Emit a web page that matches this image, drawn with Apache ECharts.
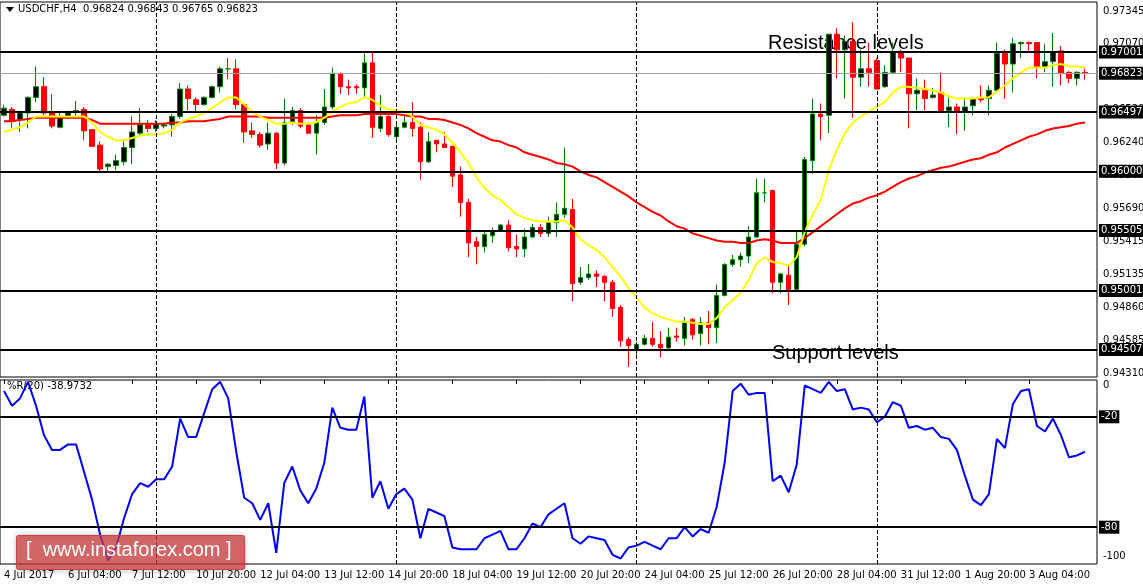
<!DOCTYPE html>
<html>
<head>
<meta charset="utf-8">
<script src="https://cdn.jsdelivr.net/npm/echarts@6/dist/echarts.min.js"></script>
<style>
html,body{margin:0;padding:0;background:#fff;}
#chart{width:1143px;height:585px;}
</style>
</head>
<body>
<div id="chart"></div>
<script>
// USDCHF H4, prices in 1e-4 units: [open, close, low, high]
var candles = [
[9647,9653,9646,9656],[9652,9642,9636,9654],[9643,9649,9633,9651],[9649,9662,9636,9663],[9662,9671,9658,9688],
[9671,9649,9647,9679],[9649,9638,9636,9665],[9637,9646,9636,9650],[9646,9649,9644,9651],[9650,9651,9646,9659],
[9652,9634,9626,9654],[9635,9621,9621,9635],[9622,9602,9600,9625],[9604,9606,9600,9607],[9605,9609,9601,9614],
[9608,9620,9605,9627],[9620,9633,9606,9646],[9632,9639,9629,9653],[9639,9636,9633,9643],[9636,9640,9633,9643],
[9638,9639,9636,9641],[9639,9646,9629,9648],[9646,9669,9644,9674],[9669,9661,9651,9672],[9660,9656,9649,9662],
[9656,9662,9655,9663],[9662,9671,9661,9672],[9671,9686,9666,9688],[9686,9686,9677,9695],[9686,9656,9652,9694],
[9656,9633,9624,9657],[9634,9631,9628,9641],[9631,9622,9620,9633],[9623,9632,9618,9641],[9632,9607,9602,9633],
[9607,9641,9605,9661],[9641,9651,9639,9654],[9651,9638,9636,9653],[9639,9632,9632,9641],[9632,9641,9614,9647],
[9641,9654,9639,9669],[9654,9682,9652,9687],[9682,9671,9665,9683],[9671,9670,9664,9677],[9671,9670,9665,9673],
[9670,9691,9662,9699],[9691,9637,9628,9700],[9636,9646,9633,9664],[9646,9631,9629,9649],[9629,9637,9626,9641],
[9637,9641,9636,9647],[9641,9636,9629,9658],[9637,9608,9593,9641],[9608,9625,9607,9633],[9626,9623,9616,9626],
[9623,9620,9620,9633],[9621,9596,9587,9621],[9597,9574,9562,9604],[9574,9540,9528,9577],[9541,9537,9522,9545],
[9537,9547,9532,9549],[9546,9550,9540,9553],[9550,9555,9549,9556],[9555,9536,9533,9559],[9537,9535,9528,9547],
[9535,9545,9528,9552],[9545,9553,9544,9556],[9553,9548,9545,9556],[9548,9557,9545,9562],[9557,9564,9545,9574],
[9564,9569,9561,9620],[9568,9506,9491,9577],[9507,9511,9505,9520],[9511,9514,9509,9522],[9514,9512,9503,9517],
[9512,9507,9491,9513],[9507,9485,9478,9509],[9486,9458,9453,9488],[9459,9454,9436,9461],[9450,9455,9444,9457],
[9455,9460,9454,9463],[9460,9455,9453,9474],[9455,9452,9444,9466],[9452,9461,9451,9469],[9462,9461,9457,9469],
[9460,9474,9454,9478],[9476,9463,9459,9477],[9464,9473,9454,9478],[9473,9469,9455,9483],[9469,9496,9456,9505],
[9496,9522,9495,9523],[9522,9526,9520,9530],[9526,9529,9520,9532],[9529,9545,9523,9554],[9545,9582,9544,9594],
[9582,9582,9574,9594],[9584,9507,9498,9584],[9507,9514,9498,9515],[9513,9501,9488,9522],[9501,9539,9499,9549],
[9539,9610,9537,9612],[9609,9648,9598,9661],[9648,9646,9626,9657],[9647,9715,9632,9715],[9715,9702,9678,9720],
[9702,9709,9661,9714],[9709,9679,9645,9725],[9679,9686,9671,9702],[9686,9683,9671,9708],[9693,9669,9669,9695],
[9671,9683,9670,9689],[9683,9700,9682,9708],[9700,9695,9683,9702],[9695,9665,9636,9695],[9665,9668,9651,9678],
[9668,9661,9651,9677],[9662,9664,9661,9670],[9666,9651,9651,9683],[9651,9654,9637,9662],[9654,9650,9631,9657],
[9650,9654,9634,9662],[9655,9661,9647,9662],[9661,9660,9658,9672],[9661,9668,9647,9672],[9668,9699,9666,9708],
[9699,9690,9661,9702],[9690,9707,9666,9712],[9707,9708,9695,9709],[9708,9707,9701,9709],[9708,9687,9678,9708],
[9687,9692,9683,9707],[9692,9700,9671,9716],[9701,9682,9672,9705],[9683,9678,9674,9684],[9678,9683,9672,9684],
[9683,9682,9677,9686]
];
var maFast = [
9633,9635,9637,9641,9646,9646,9646,9646,9646,9646,9646,9641,9633,9629,9626,9626,9628,9630,9631,9631,
9632,9635,9641,9644,9646,9649,9653,9658,9662,9662,9656,9650,9646,9643,9640,9640,9641,9640,9640,9641,
9645,9650,9654,9657,9658,9662,9660,9655,9652,9651,9650,9646,9639,9637,9635,9631,9624,9616,9607,9595,
9586,9580,9576,9570,9564,9561,9559,9558,9558,9558,9559,9553,9543,9538,9534,9528,9520,9512,9502,9494,
9486,9481,9478,9476,9474,9474,9473,9472,9472,9477,9486,9492,9498,9509,9523,9528,9524,9523,9521,9528,
9549,9564,9576,9601,9618,9632,9641,9646,9650,9654,9658,9666,9671,9671,9670,9669,9668,9666,9663,9661,
9661,9661,9662,9662,9667,9672,9678,9683,9687,9687,9687,9689,9690,9688,9688,9687
];
var maSlow = [
9642,9642,9643,9644,9645,9645,9645,9645,9645,9645,9645,9643,9640,9640,9640,9640,9640,9640,9640,9640,
9640,9641,9641,9642,9642,9642,9643,9644,9646,9646,9646,9646,9646,9645,9645,9645,9645,9645,9645,9645,
9645,9646,9647,9647,9647,9648,9648,9648,9648,9648,9647,9646,9646,9644,9644,9643,9641,9639,9636,9632,
9629,9626,9625,9622,9620,9616,9614,9612,9610,9607,9606,9604,9600,9597,9595,9591,9587,9583,9579,9574,
9570,9566,9563,9558,9554,9552,9548,9546,9544,9542,9541,9541,9540,9540,9542,9543,9542,9540,9540,9540,
9544,9549,9554,9559,9564,9569,9573,9575,9578,9580,9583,9587,9591,9594,9596,9599,9601,9603,9604,9606,
9608,9610,9611,9614,9616,9620,9623,9626,9629,9631,9634,9636,9637,9638,9640,9641
];
var williamsR = [
-6,-14,-10,-1,-14,-30,-38,-38,-35,-35,-50,-65,-84,-98,-91,-75,-62,-56,-58,-54,
-54,-47,-21,-31,-31,-18,-5,-1,-10,-39,-64,-67,-76,-67,-94,-56,-47,-60,-67,-59,
-45,-15,-26,-27,-27,-9,-64,-55,-70,-62,-59,-65,-86,-70,-72,-74,-91,-92,-92,-92,
-86,-84,-82,-92,-92,-86,-78,-80,-73,-70,-67,-86,-89,-85,-86,-87,-95,-97,-91,-90,
-88,-90,-92,-86,-86,-80,-85,-81,-83,-69,-45,-6,-2,-8,-7,-7,-55,-52,-61,-46,
-3,-5,-7,-1,-6,-5,-16,-15,-16,-23,-20,-12,-14,-26,-25,-27,-26,-31,-32,-38,
-52,-65,-68,-62,-32,-37,-13,-6,-5,-25,-28,-21,-30,-42,-41,-39
];
var levelPrices = [0.97001, 0.96497, 0.96000, 0.95505, 0.95001, 0.94507];
var lastPrice = 0.96823;
var priceTicks = [0.97345, 0.97070, 0.96795, 0.96520, 0.96240, 0.95965, 0.95690, 0.95415, 0.95135, 0.94860, 0.94585, 0.94310];
var wprLevels = [-20, -80];
var weekSeparators = [19, 49, 79, 109];
var dateLabels = ['4 Jul 2017','6 Jul 04:00','7 Jul 12:00','10 Jul 20:00','12 Jul 04:00','13 Jul 12:00',
    '14 Jul 20:00','18 Jul 04:00','19 Jul 12:00','20 Jul 20:00','24 Jul 04:00','25 Jul 12:00',
    '26 Jul 20:00','28 Jul 04:00','31 Jul 12:00','1 Aug 20:00','3 Aug 04:00'];

var FONT = 'DejaVu Sans';
var cats = [];
for (var i = 0; i <= candles.length; i++) cats.push(i);

var boxLabel = {
    show: true, position: 'end', color: '#fff', backgroundColor: '#000',
    fontFamily: FONT, fontSize: 10, padding: [2, 2, 1, 2], distance: 2
};
var sepLines = weekSeparators.map(function (v) { return {xAxis: v}; });

var option = {
    animation: false,
    backgroundColor: '#fff',
    grid: [
        {left: -2, top: 2, width: 1099, height: 375, show: true, borderColor: '#000', borderWidth: 1},
        {left: -2, top: 380, width: 1099, height: 184, show: true, borderColor: '#000', borderWidth: 1}
    ],
    xAxis: [
        {type: 'category', gridIndex: 0, data: cats, boundaryGap: true,
            axisLine: {show: false}, axisTick: {show: false}, axisLabel: {show: false}, splitLine: {show: false}},
        {type: 'category', gridIndex: 1, data: cats, boundaryGap: true,
            axisLine: {show: false},
            axisTick: {show: true, alignWithLabel: true, length: 4, lineStyle: {color: '#000'},
                interval: function (i) { return i % 8 === 0 && i / 8 < dateLabels.length; }},
            axisLabel: {show: true, align: 'left', margin: 6, fontFamily: FONT, fontSize: 10, color: '#000',
                interval: function (i) { return i % 8 === 0 && i / 8 < dateLabels.length; },
                formatter: function (v, i) { return dateLabels[i / 8] || ''; }},
            splitLine: {show: false}}
    ],
    yAxis: [
        {type: 'value', gridIndex: 0, min: 9427.6, max: 9742.0, position: 'right',
            axisLine: {show: false}, axisTick: {show: false}, axisLabel: {show: false}, splitLine: {show: false}},
        {type: 'value', gridIndex: 1, min: -100, max: 0, position: 'right',
            axisLine: {show: false}, axisTick: {show: false}, axisLabel: {show: false}, splitLine: {show: false}}
    ],
    series: [
        {
            type: 'candlestick', xAxisIndex: 0, yAxisIndex: 0, data: candles, barWidth: 5,
            itemStyle: {color: '#000', color0: '#ff0000', borderColor: '#008000', borderColor0: '#ff0000', borderWidth: 1},
            markLine: {
                silent: true, symbol: 'none',
                lineStyle: {color: '#000', type: 'dashed', width: 1},
                label: {show: false},
                data: sepLines
            }
        },
        {
            type: 'line', xAxisIndex: 0, yAxisIndex: 0, data: maSlow, symbol: 'none',
            lineStyle: {color: '#ff0000', width: 2}, z: 3
        },
        {
            type: 'line', xAxisIndex: 0, yAxisIndex: 0, data: maFast, symbol: 'none',
            lineStyle: {color: '#ffff00', width: 2}, z: 3
        },
        {
            // price scale ticks
            type: 'line', xAxisIndex: 0, yAxisIndex: 0, data: [], z: 4,
            markLine: {
                silent: true, symbol: 'none',
                lineStyle: {color: 'rgba(0,0,0,0)', width: 1},
                label: {show: true, position: 'end', distance: 6, color: '#000', fontFamily: FONT, fontSize: 10,
                    formatter: function (p) { return (p.value / 10000).toFixed(5); }},
                data: priceTicks.map(function (v) { return {yAxis: v * 10000}; })
            }
        },
        {
            // support / resistance levels + current price
            type: 'line', xAxisIndex: 0, yAxisIndex: 0, data: [], z: 6,
            markLine: {
                silent: true, symbol: 'none',
                lineStyle: {color: '#000', width: 2, type: 'solid'},
                label: Object.assign({}, boxLabel, {formatter: function (p) { return (p.value / 10000).toFixed(5); }}),
                data: levelPrices.map(function (v) { return {yAxis: v * 10000}; }).concat([
                    {yAxis: lastPrice * 10000, lineStyle: {color: '#a0a0a0', width: 1}}
                ])
            }
        },
        {
            type: 'line', xAxisIndex: 1, yAxisIndex: 1, data: williamsR, symbol: 'none',
            lineStyle: {color: '#0000ff', width: 2}, z: 3,
            markLine: {
                silent: true, symbol: 'none',
                lineStyle: {color: '#000', width: 2, type: 'solid'},
                label: Object.assign({}, boxLabel, {formatter: function (p) { return String(p.value); }}),
                data: wprLevels.map(function (v) { return {yAxis: v}; }).concat(
                    weekSeparators.map(function (v) {
                        return {xAxis: v, lineStyle: {type: 'dashed', width: 1}, label: {show: false}};
                    }))
            }
        }
    ],
    graphic: [
        {type: 'polygon', shape: {points: [[6, 7], [14, 7], [10, 12]]}, style: {fill: '#000'}},
        {type: 'text', left: 18, top: 4, style: {text: 'USDCHF,H4  0.96824 0.96843 0.96765 0.96823', font: '10px "DejaVu Sans"', fill: '#000'}},
        {type: 'text', left: 7, top: 381, style: {text: '%R(20) -38.9732', font: '10px "DejaVu Sans"', fill: '#000'}},
        {type: 'text', left: 768, top: 33, style: {text: 'Resistance levels', font: '20px "Liberation Sans"', fill: '#000'}},
        {type: 'text', left: 772, top: 343, style: {text: 'Support levels', font: '20px "Liberation Sans"', fill: '#000'}},
        {type: 'text', left: 1103, top: 380, style: {text: '0', font: '10px "DejaVu Sans"', fill: '#000'}},
        {type: 'text', left: 1103, top: 551, style: {text: '-100', font: '10px "DejaVu Sans"', fill: '#000'}},
        {type: 'rect', left: 16, top: 535, shape: {width: 228, height: 34, r: 2},
            style: {fill: 'rgba(214,60,60,0.7)', stroke: '#c44', lineWidth: 1,
                shadowColor: 'rgba(0,0,0,0.3)', shadowBlur: 4}, z: 10},
        {type: 'text', left: 26, top: 540, z: 11,
            style: {text: '[  www.instaforex.com ]', font: '20px "Liberation Sans"', fill: '#fff'}}
    ]
};

var myChart = echarts.init(document.getElementById('chart'));
myChart.setOption(option);
</script>
</body>
</html>
